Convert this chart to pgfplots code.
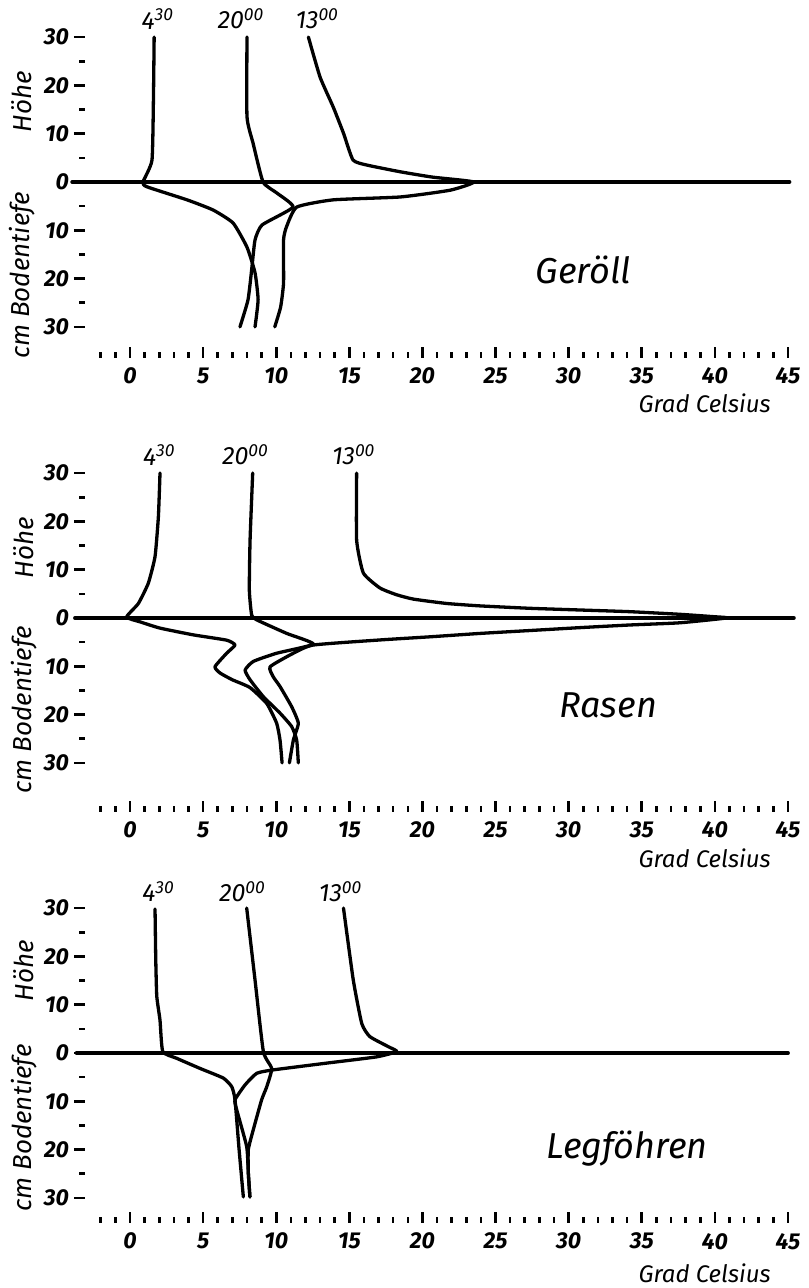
\documentclass[border=0pt]{standalone}
\usepackage{fontspec}
\setmainfont{Fira Sans}
\usepackage{pgfplots}
\pgfplotsset{compat=1.18}

% common layout of the three temperature profiles (air above 0, soil below)
\pgfplotsset{
  profile/.style={
    x=7.31pt, y=2.415pt,
    xmin=-3.08, xmax=45.5, ymax=30,
    axis lines*=left,
    axis line style={draw=none},
    clip=false,
    xtick={0,5,...,45},
    xticklabels={0,5,10,15,20,25,30,35,40,45},
    minor xtick={-2,-1,...,45},
    ytick={-30,-20,...,30},
    yticklabels={30,20,10,0,10,20,30},
    minor ytick={-25,-15,-5,5,15,25},
    xtick align=inside,
    ytick align=outside,
    major tick length=5.5pt,
    minor tick length=3pt,
    every tick/.style={black, line width=1.3pt},
    tick label style={font=\fontsize{11.5}{13}\selectfont\bfseries\itshape},
    xticklabel style={yshift=-1.5pt},
    yticklabel style={xshift=1pt},
    every axis plot/.append style={black, line width=1.65pt, line join=round, line cap=round},
  },
  curve/.style={smooth, tension=0.3},
  zero/.style={line width=2pt},
}
\tikzset{
  series/.style={font=\fontsize{12.5}{14}\selectfont\itshape},
  site/.style={font=\fontsize{18}{20}\selectfont\itshape},
  side/.style={rotate=90, font=\fontsize{13}{15}\selectfont\itshape},
  unit/.style={font=\fontsize{12}{14}\selectfont\itshape},
}

\begin{document}
\begin{tikzpicture}
\path[use as bounding box] (0,0) rectangle (404pt,644pt);

% ---------------- Geröll ----------------
\begin{axis}[profile, ymin=-36.44, at={(42.5pt,465pt)}, anchor=south west]
\addplot[zero] coordinates {(-3.95,0) (45.1,0)};
\addplot[curve] coordinates {(1.65,30) (1.6,17) (1.5,4.5) (0.89,0) (1.16,-1.0) (3.9,-3.7) (5.68,-5.8) (7.05,-8.5) (8.0,-13.5) (8.55,-18.8) (8.76,-24.4) (8.55,-30)};
\addplot[curve] coordinates {(8.0,30) (8.0,13.5) (8.41,8.1) (9.1,0) (10.05,-2.3) (11.15,-5.2) (9.03,-8.9) (8.55,-12) (8.34,-17.6) (8.07,-24.4) (7.52,-30)};
\addplot[curve] coordinates {(12.2,30) (13.0,21.7) (13.9,15.5) (14.6,10.1) (15.25,4.55) (16.2,3.5) (18.5,2.1) (20.7,1.0) (23.5,0) (21.9,-1.7) (18.5,-3.1) (13.9,-3.7) (11.4,-5.2) (10.7,-9.3) (10.5,-12) (10.5,-20.9) (10.3,-25.9) (9.9,-30)};
\node[series] at (axis cs:1.9,33.8) {4\textsuperscript{30}};
\node[series] at (axis cs:7.6,33.8) {20\textsuperscript{00}};
\node[series] at (axis cs:12.8,33.8) {13\textsuperscript{00}};
\node[site] at (axis cs:31,-18.2) {Geröll};
\node[side] at (axis cs:-7.39,16.6) {Höhe};
\node[side] at (axis cs:-7.39,-19.3) {cm Bodentiefe};
\node[unit] at (axis cs:39.3,-45.8) {Grad Celsius};
\end{axis}

% ---------------- Rasen ----------------
\begin{axis}[profile, ymin=-40.17, at={(42.5pt,238pt)}, anchor=south west]
\addplot[zero] coordinates {(-3.76,0) (45.4,0)};
\addplot[curve] coordinates {(2.05,30) (1.94,21) (1.71,12.7) (1.25,7.2) (0.57,3.0) (-0.23,0.2) (0.68,-0.8) (2.05,-2.1) (4.33,-3.5) (6.61,-4.6) (7.18,-5.6) (6.61,-7.3) (5.81,-10.1) (6.16,-11.4) (7.0,-12.8) (8.2,-14.4) (9.35,-17.7) (10.03,-21.8) (10.26,-25.3) (10.4,-30)};
\addplot[curve] coordinates {(8.39,30) (8.21,16.1) (8.16,5.8) (8.32,0.6) (8.67,-0.4) (10.72,-3.2) (12.54,-5.4) (10.03,-7.3) (8.43,-9.0) (7.87,-10.8) (8.21,-12.8) (9.12,-16.3) (10.26,-19.7) (11.06,-22.5) (11.4,-25.3) (11.51,-30)};
\addplot[curve] coordinates {(15.5,30) (15.5,16.1) (15.96,9.3) (17.1,6.2) (18.24,4.8) (19.39,3.9) (21.66,3.0) (23.94,2.5) (27.36,2.0) (30.78,1.65) (34.2,1.3) (37.6,0.76) (39.9,0.27) (40.8,0) (37.6,-1.0) (34.2,-1.45) (30.78,-2.0) (27.36,-2.6) (23.94,-3.2) (20.52,-3.9) (17.1,-4.55) (12.54,-5.6) (11.17,-7.3) (9.58,-10.1) (9.8,-12.2) (10.26,-14.2) (11.06,-18.4) (11.51,-21.8) (11.17,-25.3) (10.9,-30)};
\node[series] at (axis cs:2.0,33.8) {4\textsuperscript{30}};
\node[series] at (axis cs:7.9,33.8) {20\textsuperscript{00}};
\node[series] at (axis cs:15.3,33.8) {13\textsuperscript{00}};
\node[site] at (axis cs:32.7,-18) {Rasen};
\node[side] at (axis cs:-7.25,14.5) {Höhe};
\node[side] at (axis cs:-7.25,-19) {cm Bodentiefe};
\node[unit] at (axis cs:39.3,-49.8) {Grad Celsius};
\end{axis}

% ---------------- Legföhren ----------------
\begin{axis}[profile, ymin=-35.2, at={(42.5pt,32.5pt)}, anchor=south west]
\addplot[zero] coordinates {(-3.65,0) (45.0,0)};
\addplot[curve] coordinates {(1.71,29.8) (1.76,19.3) (1.83,11.7) (2.05,6.8) (2.24,0.3) (3.19,-1.1) (4.79,-3.2) (6.38,-5.2) (6.96,-7.0) (7.18,-9.7) (7.46,-20) (7.75,-29.8)};
\addplot[curve] coordinates {(7.98,30) (8.55,15.1) (9.12,0.3) (9.69,-3.2) (9.35,-7.0) (9.0,-9.7) (8.43,-15.9) (8.09,-20) (8.09,-24.8) (8.2,-29.8)};
\addplot[curve] coordinates {(14.6,30) (15.27,15.1) (15.85,6.1) (16.4,3.4) (17.67,1.3) (18.24,0.3) (16.87,-0.8) (13.45,-2.1) (9.8,-3.5) (8.67,-4.2) (7.87,-6.6) (7.18,-9.7) (7.3,-11.8) (7.98,-19.4) (8.09,-24.8) (8.2,-29.8)};
\node[series] at (axis cs:1.95,33.4) {4\textsuperscript{30}};
\node[series] at (axis cs:7.7,33.4) {20\textsuperscript{00}};
\node[series] at (axis cs:14.4,33.4) {13\textsuperscript{00}};
\node[site] at (axis cs:34,-19.7) {Legföhren};
\node[side] at (axis cs:-7.25,17) {Höhe};
\node[side] at (axis cs:-7.25,-15.5) {cm Bodentiefe};
\node[unit] at (axis cs:39.3,-45.6) {Grad Celsius};
\end{axis}
\end{tikzpicture}
\end{document}
